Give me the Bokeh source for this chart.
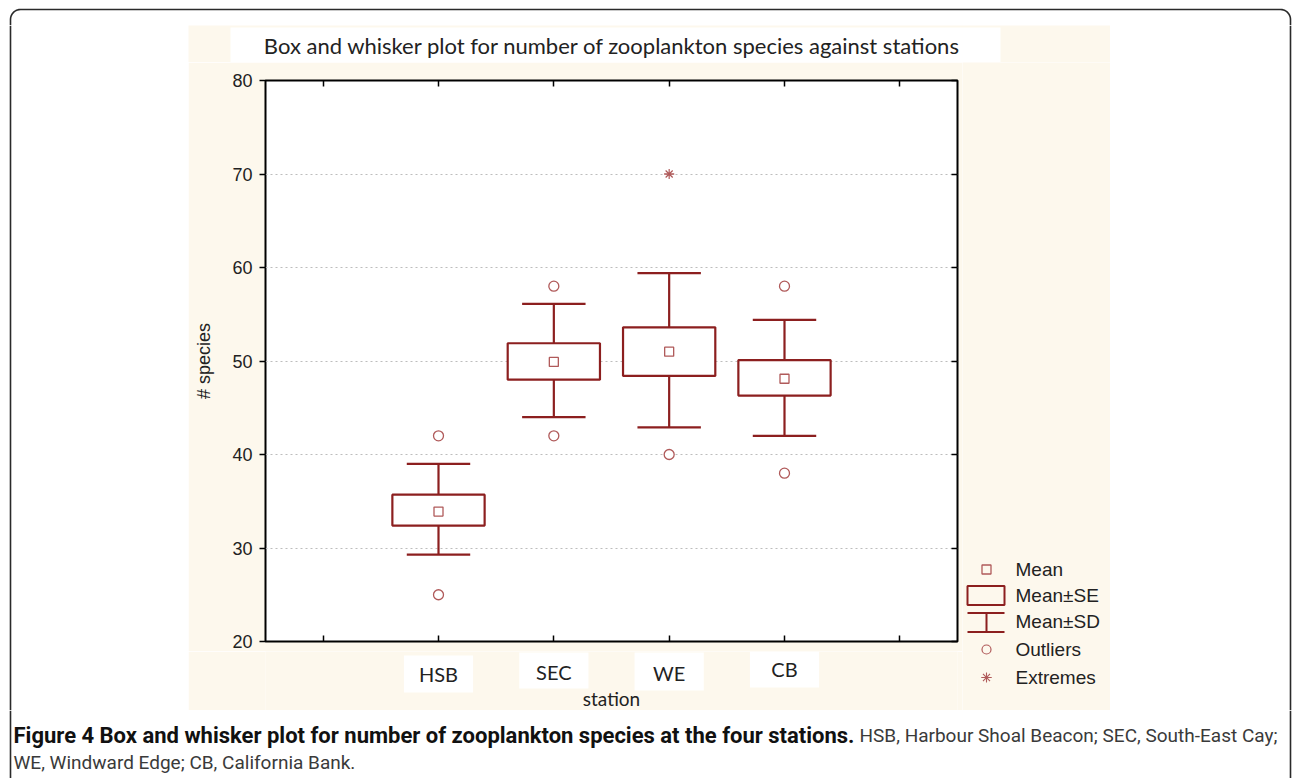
from bokeh.plotting import figure
from bokeh.layouts import column, row
from bokeh.models import Range1d, FixedTicker, LinearAxis, ColumnDataSource
from bokeh.core.properties import value
from bokeh.embed import file_html
from bokeh.resources import INLINE
import math

# ---------------- data ----------------
stations = ["HSB", "SEC", "WE", "CB"]
means = [33.9, 49.9, 51.0, 48.1]
se_low = [32.4, 48.0, 48.4, 46.3]
se_high = [35.7, 51.9, 53.6, 50.1]
sd_low = [29.3, 44.0, 42.9, 42.0]
sd_high = [39.0, 56.1, 59.4, 54.4]
outlier_station = ["HSB", "HSB", "SEC", "SEC", "WE", "CB", "CB"]
outlier_values = [42, 25, 58, 42, 40, 58, 38]
extreme_station = ["WE"]
extreme_values = [70]
y_ticks = [20, 30, 40, 50, 60, 70, 80]
grid_ticks = [30, 40, 50, 60, 70]
x_ticks = [0, 1, 2, 3, 4, 5]
legend_labels = ["Mean", "Mean±SE", "Mean±SD", "Outliers", "Extremes"]
title_text = "Box and whisker plot for number of zooplankton species against stations"
x_label = "station"
y_label = "# species"
caption_bold = "Figure 4 Box and whisker plot for number of zooplankton species at the four stations."
caption_rest = "HSB, Harbour Shoal Beacon; SEC, South-East Cay;"
caption_line2 = "WE, Windward Edge; CB, California Bank."

# ---------------- style ----------------
DARK = "#8c1f1f"
LIGHT = "#b05a5a"
CREAM = "#fdf8ed"
TXT = "#222222"
BORDER = "#2a2a2a"
CAL = "Lato"
ARIAL = "Liberation Sans"
CAPF = "Roboto"


def deco(w, h, bg, x_range=None, ml=0, mr=0):
    f = figure(width=w, height=h, x_range=x_range if x_range is not None else Range1d(0, w),
               y_range=Range1d(h, 0), output_backend="svg", toolbar_location=None,
               x_axis_location=None, y_axis_location=None, title=None,
               min_border_left=ml, min_border_right=mr, min_border_top=0, min_border_bottom=0)
    f.grid.visible = False
    f.outline_line_color = None
    f.background_fill_color = bg
    f.border_fill_color = bg
    return f


def hide_labels(ax):
    ax.major_label_text_font_size = "0px"
    ax.major_label_text_color = None
    ax.major_label_standoff = 0


# ---------------- header with top of border ----------------
header = deco(1292, 25, "white")
R = 10
bx, by = [10, 10], [25, 9 + R]
for k in range(0, 11):
    a = math.pi + k * (math.pi / 2) / 10
    bx.append(10 + R + R * math.cos(a)); by.append(9 + R + R * math.sin(a))
for k in range(0, 11):
    a = 1.5 * math.pi + k * (math.pi / 2) / 10
    bx.append(1290 - R + R * math.cos(a)); by.append(9 + R + R * math.sin(a))
bx += [1290, 1290]; by += [9 + R, 25]
header.line(bx, by, line_color=BORDER, line_width=1.6)

# side spacers
left_sp = deco(188, 685, "white")
left_sp.line([10, 10], [0, 685], line_color=BORDER, line_width=1.6)
right_sp = deco(182, 685, "white")
right_sp.line([180, 180], [0, 685], line_color=BORDER, line_width=1.6)

# ---------------- title strip ----------------
title_fig = deco(922, 37, CREAM)
title_fig.quad(left=[42], right=[812], top=[2], bottom=[37], fill_color="white", line_color=None)
title_fig.text(x=[424], y=[20], text=[title_text], text_font=value(CAL), text_font_size=value("22px"),
               text_color=TXT, text_align="center", text_baseline="middle")

# ---------------- main plot ----------------
xr = Range1d(-0.5, 5.5)
p = figure(width=774, height=589, x_range=xr, y_range=Range1d(20, 80),
           output_backend="svg", toolbar_location=None, title=None,
           min_border_left=77, min_border_right=5, min_border_top=18, min_border_bottom=10)
p.background_fill_color = "white"
p.border_fill_color = CREAM
p.outline_line_color = "black"
p.outline_line_width = 2

p.xaxis.ticker = FixedTicker(ticks=x_ticks)
p.xaxis.major_tick_in = 6
p.xaxis.major_tick_out = 0
p.xaxis.major_tick_line_width = 1.5
p.xaxis.minor_tick_line_color = None
p.xaxis.axis_line_color = None
hide_labels(p.xaxis[0])

p.yaxis.ticker = FixedTicker(ticks=y_ticks)
p.yaxis.major_tick_in = 0
p.yaxis.major_tick_out = 6
p.yaxis.major_tick_line_width = 1.5
p.yaxis.minor_tick_line_color = None
p.yaxis.axis_line_color = None
p.yaxis.major_label_text_font = ARIAL
p.yaxis.major_label_text_font_size = "18px"
p.yaxis.major_label_text_color = TXT
p.yaxis.major_label_standoff = 7
p.yaxis.axis_label = y_label
p.yaxis.axis_label_text_font = ARIAL
p.yaxis.axis_label_text_font_size = "18px"
p.yaxis.axis_label_text_font_style = "normal"
p.yaxis.axis_label_text_color = TXT
p.yaxis.axis_label_standoff = 15

top_ax = LinearAxis(ticker=FixedTicker(ticks=x_ticks), major_tick_in=6, major_tick_out=0,
                    major_tick_line_width=1.5, minor_tick_line_color=None, axis_line_color=None)
hide_labels(top_ax)
p.add_layout(top_ax, "above")
right_ax = LinearAxis(ticker=FixedTicker(ticks=y_ticks), major_tick_in=6, major_tick_out=0,
                      major_tick_line_width=1.5, minor_tick_line_color=None, axis_line_color=None)
hide_labels(right_ax)
p.add_layout(right_ax, "right")

p.xgrid.visible = False
p.ygrid.ticker = FixedTicker(ticks=grid_ticks)
p.ygrid.grid_line_color = "#bdbdbd"
p.ygrid.grid_line_dash = "2 3"
p.ygrid.grid_line_width = 1

pos = {s: i + 1 for i, s in enumerate(stations)}
xs = [pos[s] for s in stations]
src = ColumnDataSource(dict(
    x=xs, mean=means, se_low=se_low, se_high=se_high, sd_low=sd_low, sd_high=sd_high,
    left=[x - 0.4 for x in xs], right=[x + 0.4 for x in xs],
    cl=[x - 0.275 for x in xs], cr=[x + 0.275 for x in xs]))

p.segment(x0="x", y0="sd_low", x1="x", y1="se_low", source=src, line_color=DARK, line_width=2.2)
p.segment(x0="x", y0="se_high", x1="x", y1="sd_high", source=src, line_color=DARK, line_width=2.2)
p.segment(x0="cl", y0="sd_low", x1="cr", y1="sd_low", source=src, line_color=DARK, line_width=2.2)
p.segment(x0="cl", y0="sd_high", x1="cr", y1="sd_high", source=src, line_color=DARK, line_width=2.2)
p.quad(left="left", right="right", bottom="se_low", top="se_high", source=src,
       fill_color="white", line_color=DARK, line_width=2.2)
p.scatter(x="x", y="mean", source=src, marker="square", size=9, fill_color="white",
          line_color=LIGHT, line_width=1.3)

osrc = ColumnDataSource(dict(x=[pos[s] for s in outlier_station], y=outlier_values))
p.scatter(x="x", y="y", source=osrc, marker="circle", size=10, fill_color="white",
          line_color=LIGHT, line_width=1.3)
esrc = ColumnDataSource(dict(x=[pos[s] for s in extreme_station], y=extreme_values))
p.scatter(x="x", y="y", source=esrc, marker="asterisk", size=10, line_color=LIGHT, line_width=1.2)
p.scatter(x="x", y="y", source=esrc, marker="dash", size=10, line_color=LIGHT, line_width=1.2)

# ---------------- category labels strip (shares the x scale) ----------------
xlab = deco(774, 59, CREAM, x_range=xr, ml=77, mr=5)
box_top = [4, 1, 1, 0]
box_bot = [41, 37, 39, 36]
lab_y = [22, 20, 21, 17]
xlab.quad(left=[x - 0.3 for x in xs], right=[x + 0.3 for x in xs], top=box_top, bottom=box_bot,
          fill_color="white", line_color=None)
xlab.text(x=xs, y=lab_y, text=stations, text_font=value(CAL), text_font_size=value("20px"),
          text_color=TXT, text_align="center", text_baseline="middle")
xlab.text(x=[2.5], y=[47], text=[x_label], text_font=value(CAL), text_font_size=value("19px"),
          text_color=TXT, text_align="center", text_baseline="middle")

# ---------------- legend strip ----------------
leg = deco(148, 648, CREAM)
leg_y = [507, 533, 559, 587, 615]
gx = 24
leg.scatter(x=[gx], y=[leg_y[0]], marker="square", size=9, fill_color=CREAM, line_color=LIGHT, line_width=1.3)
leg.quad(left=[5], right=[42], top=[leg_y[1] - 9.5], bottom=[leg_y[1] + 9.5], fill_color=CREAM,
         line_color=DARK, line_width=2)
leg.segment(x0=[5, 5, gx], y0=[leg_y[2] - 8.5, leg_y[2] + 10.5, leg_y[2] - 8.5],
            x1=[42, 42, gx], y1=[leg_y[2] - 8.5, leg_y[2] + 10.5, leg_y[2] + 10.5],
            line_color=DARK, line_width=2)
leg.scatter(x=[gx], y=[leg_y[3]], marker="circle", size=9, fill_color=CREAM, line_color=LIGHT, line_width=1.2)
leg.scatter(x=[gx], y=[leg_y[4]], marker="asterisk", size=10, line_color=LIGHT, line_width=1.1)
leg.scatter(x=[gx], y=[leg_y[4]], marker="dash", size=10, line_color=LIGHT, line_width=1.1)
leg.text(x=[53] * 5, y=leg_y, text=legend_labels, text_font=value(ARIAL), text_font_size=value("19px"),
         text_color=TXT, text_align="left", text_baseline="middle")

# ---------------- caption ----------------
cap = deco(1292, 68, "white")
cap.line([10, 10], [0, 68], line_color=BORDER, line_width=1.6)
cap.line([1290, 1290], [0, 68], line_color=BORDER, line_width=1.6)
cap.text(x=[13], y=[25], text=[caption_bold], text_font=value(CAPF), text_font_size=value("22px"),
         text_font_style="bold", text_color="#111111", text_align="left", text_baseline="middle")
cap.text(x=[859], y=[25], text=[caption_rest], text_font=value(CAPF), text_font_size=value("19px"),
         text_color="#3a3a3a", text_align="left", text_baseline="middle")
cap.text(x=[13], y=[52], text=[caption_line2], text_font=value(CAPF), text_font_size=value("19px"),
         text_color="#3a3a3a", text_align="left", text_baseline="middle")

layout = column(
    header,
    row(left_sp,
        column(title_fig, row(column(p, xlab), leg)),
        right_sp),
    cap)

open("out.html", "w").write(file_html(layout, INLINE))
